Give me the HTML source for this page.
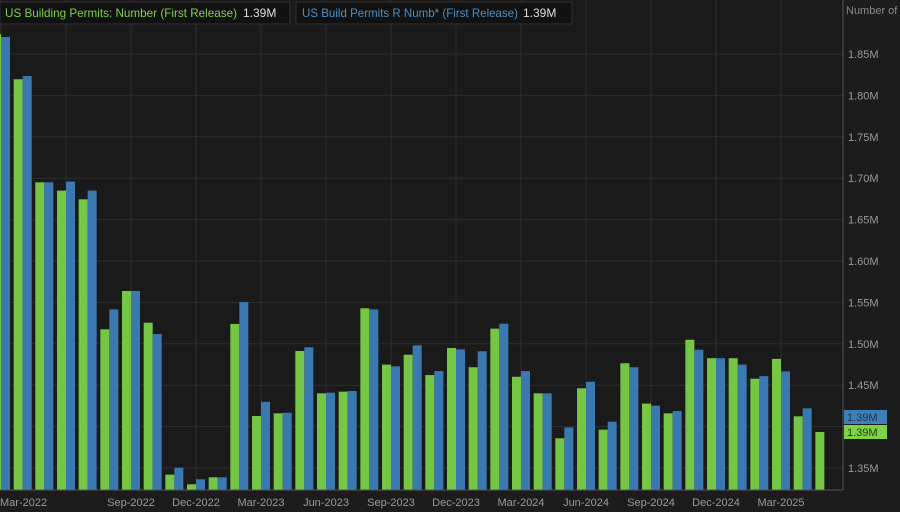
<!DOCTYPE html>
<html><head><meta charset="utf-8"><style>
html,body{margin:0;padding:0;background:#1c1c1c;}
svg{display:block;font-family:"Liberation Sans",sans-serif;}
</style></head><body>
<svg id="chart" width="900" height="512">
<rect x="0" y="0" width="900" height="512" fill="#1c1c1c"/>
<rect x="0" y="0" width="843" height="490" fill="#1a1a1a"/>
<g id="grid"></g>
<g id="bars"></g>
<line x1="843" y1="0" x2="843" y2="490" stroke="#555"/>
<line x1="0" y1="490" x2="843" y2="490" stroke="#555"/>
<g id="yticks"></g>
<g id="xticks"></g>
<text x="846" y="14" fill="#8a8a8a" font-size="11">Number of</text>
<g>
<rect x="0" y="2" width="290" height="22" fill="#111" stroke="#333"/>
<text x="5" y="17" fill="#7ed348" font-size="12" textLength="232" lengthAdjust="spacingAndGlyphs">US Building Permits: Number (First Release)</text>
<text x="243" y="17" fill="#ddd" font-size="12">1.39M</text>
</g>
<g>
<rect x="296" y="2" width="276" height="22" fill="#111" stroke="#333"/>
<text x="302" y="17" fill="#4a90c8" font-size="12" textLength="216" lengthAdjust="spacingAndGlyphs">US Build Permits R Numb* (First Release)</text>
<text x="523" y="17" fill="#ddd" font-size="12">1.39M</text>
</g>
<rect x="844" y="410" width="43" height="14" fill="#3f7fb8"/>
<text x="847" y="421" fill="#1a3550" font-size="11">1.39M</text>
<rect x="844" y="425" width="43" height="14" fill="#7ed348"/>
<text x="847" y="436" fill="#1f3d10" font-size="11">1.39M</text>
</svg>
<script>
const months = ["Mar-2022","Apr-2022","May-2022","Jun-2022","Jul-2022","Aug-2022","Sep-2022","Oct-2022","Nov-2022","Dec-2022","Jan-2023","Feb-2023","Mar-2023","Apr-2023","May-2023","Jun-2023","Jul-2023","Aug-2023","Sep-2023","Oct-2023","Nov-2023","Dec-2023","Jan-2024","Feb-2024","Mar-2024","Apr-2024","May-2024","Jun-2024","Jul-2024","Aug-2024","Sep-2024","Oct-2024","Nov-2024","Dec-2024","Jan-2025","Feb-2025","Mar-2025","Apr-2025","May-2025"];
const greenValues = [1.874,1.8195,1.695,1.685,1.6745,1.5175,1.5638,1.5255,1.342,1.3303,1.3388,1.524,1.4128,1.416,1.4913,1.4402,1.4422,1.5429,1.4749,1.4868,1.4622,1.4949,1.4717,1.5183,1.4602,1.4402,1.3859,1.4463,1.3963,1.4765,1.4278,1.416,1.5049,1.4826,1.4826,1.4578,1.4818,1.4124,1.3935];
const blueValues = [1.8705,1.8234,1.695,1.696,1.685,1.5416,1.5638,1.5118,1.3503,1.3364,1.3388,1.5505,1.43,1.4167,1.4958,1.441,1.443,1.5416,1.4728,1.4982,1.4671,1.4933,1.491,1.5243,1.4671,1.4402,1.399,1.4542,1.406,1.4717,1.4253,1.4189,1.4929,1.4826,1.4749,1.4609,1.4667,1.422,null];
const yTickValues = [1.35,1.40,1.45,1.50,1.55,1.60,1.65,1.70,1.75,1.80,1.85];
const yTickLabels = ["1.35M","1.40M","1.45M","1.50M","1.55M","1.60M","1.65M","1.70M","1.75M","1.80M","1.85M"];
const xGridMonths = ["Mar-2022","Jun-2022","Sep-2022","Dec-2022","Mar-2023","Jun-2023","Sep-2023","Dec-2023","Mar-2024","Jun-2024","Sep-2024","Dec-2024","Mar-2025"];
const xTickLabels = ["Mar-2022","Sep-2022","Dec-2022","Mar-2023","Jun-2023","Sep-2023","Dec-2023","Mar-2024","Jun-2024","Sep-2024","Dec-2024","Mar-2025"];

const NS="http://www.w3.org/2000/svg";
const baseY=490;
function yScale(v){return 54+(1.85-v)/0.05*41.4;}
function xScale(i){return 1+i*21.667;}
function mk(tag,attrs,parent){const e=document.createElementNS(NS,tag);for(const k in attrs)e.setAttribute(k,attrs[k]);parent.appendChild(e);return e;}
const grid=document.getElementById('grid'),bars=document.getElementById('bars'),yt=document.getElementById('yticks'),xt=document.getElementById('xticks');
yTickValues.forEach((v,k)=>{
  const y=yScale(v);
  const l=mk('line',{x1:0,x2:843,y1:y,y2:y,stroke:'#2e2e2e'},grid);
  
  
  if(yTickLabels[k]!=="1.40M"){
  const t=mk('text',{x:848,y:y+4,fill:'#9a9a9a','font-size':11},yt);
  t.textContent=yTickLabels[k];
  
  }
});
xGridMonths.forEach(lab=>{
  const x=xScale(months.indexOf(lab));
  const l=mk('line',{x1:x,x2:x,y1:0,y2:490,stroke:'#2e2e2e'},grid);
  
  
});
xTickLabels.forEach(lab=>{
  const i=months.indexOf(lab);let x=xScale(i);
  const first=(i===0);
  const t=mk('text',{x:first?0:x,y:506,fill:'#9a9a9a','font-size':11,'text-anchor':first?'start':'middle'},xt);
  t.textContent=lab;
  
  
});
months.forEach((m,i)=>{
  const c=xScale(i);
  const g=greenValues[i];
  if(g!=null){const y=yScale(g);
    const r=mk('rect',{x:c-9,y:y,width:9,height:baseY-y,fill:'#76c645'},bars);
    
    }
  const b=blueValues[i];
  if(b!=null){const y=yScale(b);
    const r=mk('rect',{x:c,y:y,width:9,height:baseY-y,fill:'#3a78b0'},bars);
    
    }
});
</script>
</body></html>
